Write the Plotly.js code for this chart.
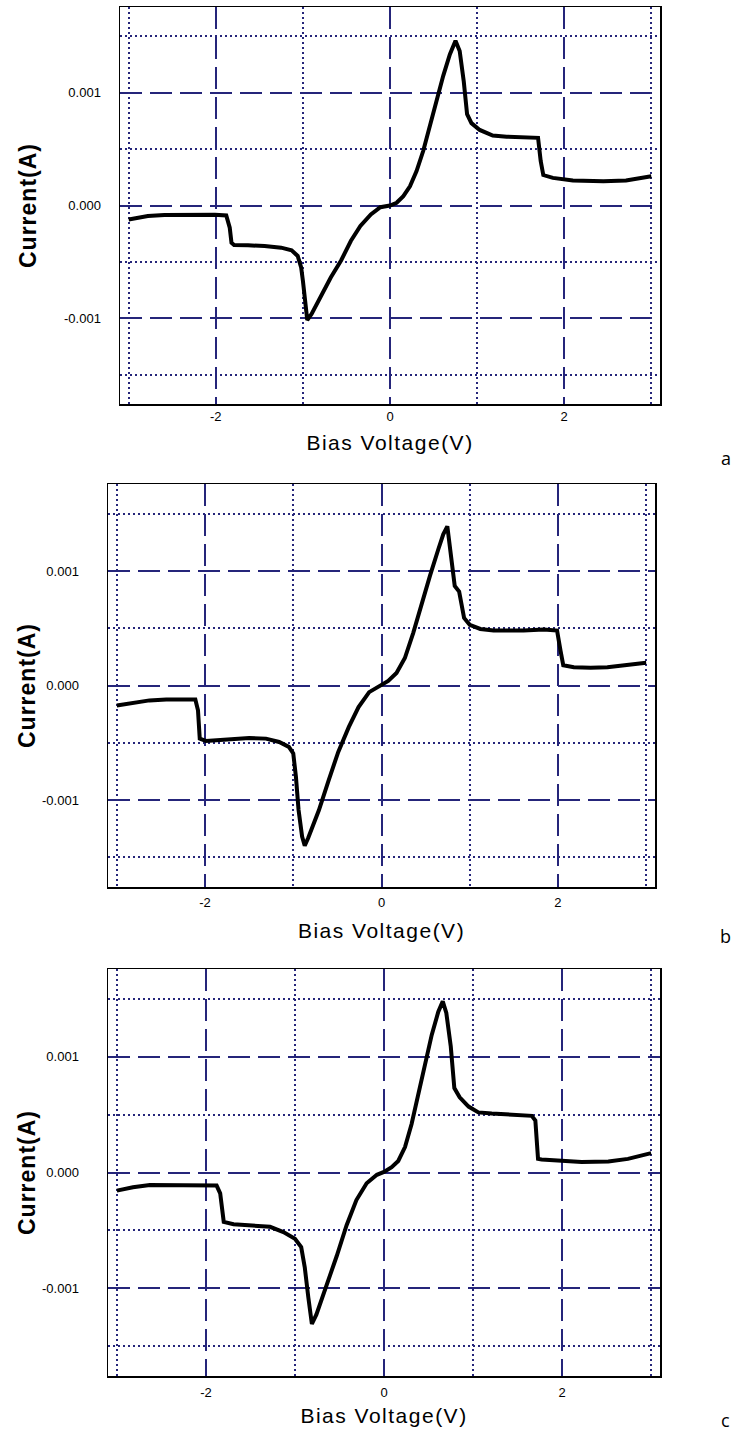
<!DOCTYPE html>
<html>
<head>
<meta charset="utf-8">
<script src="https://cdn.plot.ly/plotly-3.0.1.min.js"></script>
<style>html,body{margin:0;padding:0;background:#fff;}</style>
</head>
<body>
<div id="chart" style="width:735px;height:1439px;"></div>
<script>
// Bias voltage (V) and current (A), panels a, b, c
const aVoltage = [-3.0, -2.78, -2.59, -2.40, -2.01, -1.88, -1.84, -1.82, -1.79, -1.63, -1.44, -1.25, -1.13, -1.06, -1.02, -1.0, -0.98, -0.95, -0.90, -0.79, -0.68, -0.56, -0.45, -0.34, -0.22, -0.11, -0.04, 0, 0.076, 0.153, 0.229, 0.305, 0.382, 0.458, 0.534, 0.611, 0.687, 0.752, 0.80, 0.847, 0.885, 0.935, 1.03, 1.18, 1.34, 1.49, 1.70, 1.73, 1.76, 1.87, 2.10, 2.45, 2.71, 3.0];
const aCurrent = [-0.124e-3, -0.094e-3, -0.085e-3, -0.082e-3, -0.082e-3, -0.088e-3, -0.197e-3, -0.33e-3, -0.35e-3, -0.353e-3, -0.359e-3, -0.374e-3, -0.397e-3, -0.447e-3, -0.55e-3, -0.668e-3, -0.844e-3, -1.015e-3, -0.962e-3, -0.80e-3, -0.638e-3, -0.485e-3, -0.315e-3, -0.182e-3, -0.079e-3, -0.015e-3, -0.005e-3, 0, 0.024e-3, 0.083e-3, 0.17e-3, 0.305e-3, 0.485e-3, 0.707e-3, 0.93e-3, 1.15e-3, 1.34e-3, 1.46e-3, 1.37e-3, 1.10e-3, 0.81e-3, 0.73e-3, 0.67e-3, 0.62e-3, 0.61e-3, 0.605e-3, 0.60e-3, 0.395e-3, 0.27e-3, 0.245e-3, 0.222e-3, 0.216e-3, 0.222e-3, 0.26e-3];

const bVoltage = [-3.0, -2.82, -2.63, -2.44, -2.11, -2.08, -2.06, -1.99, -1.88, -1.69, -1.50, -1.31, -1.16, -1.05, -1.0, -0.97, -0.94, -0.90, -0.87, -0.83, -0.71, -0.60, -0.49, -0.37, -0.26, -0.14, -0.06, 0, 0.076, 0.17, 0.265, 0.36, 0.455, 0.55, 0.644, 0.70, 0.746, 0.78, 0.83, 0.88, 0.936, 1.0, 1.12, 1.27, 1.61, 1.84, 1.99, 2.03, 2.06, 2.18, 2.37, 2.56, 2.78, 3.0];
const bCurrent = [-0.174e-3, -0.151e-3, -0.13e-3, -0.122e-3, -0.122e-3, -0.217e-3, -0.464e-3, -0.484e-3, -0.478e-3, -0.464e-3, -0.458e-3, -0.464e-3, -0.493e-3, -0.536e-3, -0.594e-3, -0.797e-3, -1.087e-3, -1.32e-3, -1.40e-3, -1.33e-3, -1.09e-3, -0.83e-3, -0.58e-3, -0.362e-3, -0.188e-3, -0.058e-3, -0.02e-3, 0, 0.04e-3, 0.11e-3, 0.24e-3, 0.46e-3, 0.72e-3, 0.96e-3, 1.19e-3, 1.32e-3, 1.39e-3, 1.20e-3, 0.87e-3, 0.82e-3, 0.59e-3, 0.53e-3, 0.494e-3, 0.48e-3, 0.48e-3, 0.49e-3, 0.48e-3, 0.30e-3, 0.177e-3, 0.16e-3, 0.154e-3, 0.16e-3, 0.177e-3, 0.198e-3];

const cVoltage = [-3.0, -2.82, -2.63, -2.25, -1.88, -1.84, -1.80, -1.69, -1.51, -1.28, -1.13, -1.0, -0.93, -0.89, -0.85, -0.81, -0.76, -0.645, -0.53, -0.42, -0.31, -0.195, -0.08, 0, 0.086, 0.16, 0.236, 0.31, 0.386, 0.46, 0.536, 0.61, 0.66, 0.70, 0.75, 0.79, 0.85, 0.95, 1.06, 1.21, 1.47, 1.66, 1.70, 1.73, 1.77, 1.99, 2.22, 2.52, 2.74, 3.0];
const cCurrent = [-0.157e-3, -0.128e-3, -0.108e-3, -0.108e-3, -0.113e-3, -0.18e-3, -0.427e-3, -0.448e-3, -0.456e-3, -0.47e-3, -0.515e-3, -0.573e-3, -0.645e-3, -0.82e-3, -1.08e-3, -1.31e-3, -1.23e-3, -0.98e-3, -0.72e-3, -0.456e-3, -0.238e-3, -0.093e-3, -0.02e-3, 0.005e-3, 0.046e-3, 0.10e-3, 0.22e-3, 0.42e-3, 0.68e-3, 0.94e-3, 1.19e-3, 1.39e-3, 1.48e-3, 1.38e-3, 1.09e-3, 0.73e-3, 0.65e-3, 0.57e-3, 0.52e-3, 0.51e-3, 0.50e-3, 0.49e-3, 0.45e-3, 0.118e-3, 0.113e-3, 0.098e-3, 0.09e-3, 0.095e-3, 0.118e-3, 0.168e-3];

// Tick values / labels
const xTickVals = [-2, 0, 2];
const xTickText = ['-2', '0', '2'];
const xMinorVals = [-3, -1, 1, 3];
const yTickVals = [-0.001, 0, 0.001];
const yTickText = ['-0.001', '0.000', '0.001'];
const yMinorVals = [-0.0015, -0.0005, 0.0005, 0.0015];
const panelLabels = ['a', 'b', 'c'];
const xTitle = 'Bias Voltage(V)';
const yTitle = 'Current(A)';

const GRID = '#25257a';
const FONT = 'Liberation Sans, Arial, sans-serif';

const panels = [
  {v: aVoltage, i: aCurrent, xd: [120/735, 660/735], yd: [1-404/1439, 1-7/1439], lab: [726, 458], yls: 15, yts: 21, xls: 0, xts: 12},
  {v: bVoltage, i: bCurrent, xd: [108/735, 655/735], yd: [1-887/1439, 1-484/1439], lab: [725, 936], yls: 25, yts: 0, xls: 3, xts: 14},
  {v: cVoltage, i: cCurrent, xd: [108/735, 660/735], yd: [1-1376/1439, 1-969/1439], lab: [725, 1420], yls: 25, yts: 0, xls: 4, xts: 9}
];

const data = [];
const layout = {
  width: 735, height: 1439,
  margin: {l: 0, r: 0, t: 0, b: 0},
  paper_bgcolor: '#fff', plot_bgcolor: '#fff',
  showlegend: false,
  font: {family: FONT, color: '#000'},
  annotations: []
};

panels.forEach((p, k) => {
  const n = k === 0 ? '' : String(k + 1);
  data.push({
    x: p.v, y: p.i, type: 'scatter', mode: 'lines',
    xaxis: 'x' + n, yaxis: 'y' + n,
    line: {color: '#000', width: 4}, hoverinfo: 'skip'
  });
  layout['xaxis' + n] = {
    domain: p.xd, anchor: 'y' + n, range: [-3.1, 3.1],
    tickmode: 'array', tickvals: xTickVals, ticktext: xTickText,
    showgrid: true, gridcolor: GRID, gridwidth: 2, griddash: '22px,8px',
    minor: {tickmode: 'array', tickvals: xMinorVals, showgrid: true, gridcolor: GRID, gridwidth: 2, griddash: '2px,3px'},
    zeroline: false, showline: true, mirror: true, linecolor: '#000', linewidth: 1.5,
    ticks: '', ticklabelstandoff: p.xls, tickfont: {size: 13, family: FONT},
    title: {text: xTitle, font: {size: 21, family: FONT}, standoff: p.xts}
  };
  layout['yaxis' + n] = {
    domain: p.yd, anchor: 'x' + n, range: [-0.00176, 0.00176],
    tickmode: 'array', tickvals: yTickVals, ticktext: yTickText,
    showgrid: true, gridcolor: GRID, gridwidth: 2, griddash: '22px,8px',
    minor: {tickmode: 'array', tickvals: yMinorVals, showgrid: true, gridcolor: GRID, gridwidth: 2, griddash: '2px,3px'},
    zeroline: false, showline: true, mirror: true, linecolor: '#000', linewidth: 1.5,
    ticks: '', ticklabelstandoff: p.yls, tickfont: {size: 13, family: FONT},
    title: {text: yTitle, font: {size: 23, family: FONT, weight: 'bold'}, standoff: p.yts}
  };
  layout.annotations.push({
    xref: 'paper', yref: 'paper', x: p.lab[0] / 735, y: 1 - p.lab[1] / 1439,
    xanchor: 'center', yanchor: 'middle', showarrow: false,
    text: panelLabels[k], font: {size: 18, family: 'Open Sans, sans-serif', color: '#000'}
  });
});

Plotly.newPlot('chart', data, layout, {staticPlot: true}).then(() => {
  document.querySelectorAll('.g-xtitle text, .g-x2title text, .g-x3title text').forEach(el => { el.style.letterSpacing = '1.5px'; });
  document.querySelectorAll('.g-ytitle text, .g-y2title text, .g-y3title text').forEach(el => { el.style.letterSpacing = '1px'; });
});
</script>
</body>
</html>
